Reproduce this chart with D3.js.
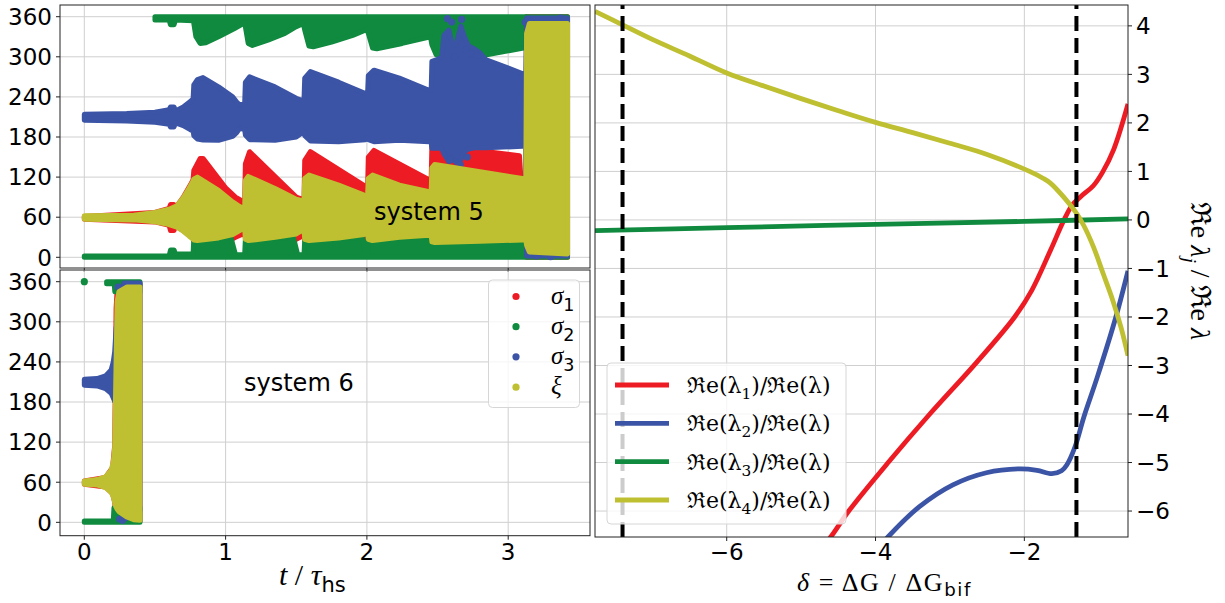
<!DOCTYPE html>
<html><head><meta charset="utf-8">
<script src="https://cdn.jsdelivr.net/npm/d3@7"></script>
<style>body{margin:0;background:#fff}svg{display:block}</style>
</head><body>
<svg id="chart" width="1225" height="603"></svg>
<script>
// ================= DATA =================
const timeTicks = [0, 1, 2, 3];
const angleTicks = [0, 60, 120, 180, 240, 300, 360];
const deltaTicks = [-6, -4, -2];
const ratioTicks = [-6, -5, -4, -3, -2, -1, 0, 1, 2, 3, 4];
const seriesLabels = ["σ", "σ", "σ", "ξ"];
const seriesSubs = ["1", "2", "3", ""];
const panelLabels = ["system 5", "system 6"];

// system 5 : point-cloud envelopes [t, low, high]
const sys5Sigma1 = [[0,57,61],[0.5,53,67],[0.6,48,73],[0.61,40,79],[0.635,40,79],[0.645,47,74],[0.7,40,90],[0.75,32,108],[0.77,28,116],
 [0.775,24,130],[0.82,22,148],[0.84,22,148],[1.0,22,104],[1.07,30,90],[1.135,36,82],
 [1.14,28,140],[1.17,24,158],[1.5,27,90],[1.555,33,86],
 [1.56,25,145],[1.6,22,158],[1.99,27,106],[2.005,30,104],
 [2.01,25,150],[2.05,22,160],[2.44,26,116],[2.455,28,116],
 [2.46,20,168],[3.08,24,152],[3.09,24,118],[3.125,24,118],
 [3.13,0,360],[3.42,0,360]];
const sys5Sigma2Low = [[0,0,2],[0.6,0,2],[0.61,0,11],[0.635,0,11],[0.645,0,5],[0.77,0,5],
 [0.775,0,28],[0.95,0,32],[1.04,0,28],[1.07,0,4],[1.135,0,4],
 [1.14,0,27],[1.48,0,30],[1.51,0,4],[1.555,0,4],
 [1.56,0,26],[1.97,0,30],[1.99,0,5],[2.005,0,5],
 [2.01,0,27],[2.455,0,31],
 [2.46,0,23],[3.125,0,29],
 [3.13,0,360],[3.42,0,360]];
const sys5Sigma2High = [[0.5,355,360],[0.6,355,360],[0.61,348,360],[0.635,348,360],[0.645,355,360],[0.77,354,360],
 [0.775,350,360],[0.79,330,360],[0.82,320,360],[0.86,321,360],[0.95,330,360],[1.06,342,360],[1.135,351,360],
 [1.14,345,360],[1.16,320,360],[1.19,317,360],[1.3,325,360],[1.42,335,360],[1.5,345,360],[1.55,350,360],
 [1.56,340,360],[1.59,316,360],[1.62,315,360],[1.75,322,360],[1.9,332,360],[2.0,341,360],
 [2.01,335,360],[2.04,313,360],[2.07,312,360],[2.25,320,360],[2.45,330,360],
 [2.46,318,360],[2.49,303,360],[2.8,301,360],[3.08,312,360],[3.125,314,360]];
const sys5Sigma3 = [[0,205,214],[0.3,204,215],[0.5,202,217],[0.6,199,221],[0.61,195,225],[0.635,195,225],[0.645,201,219],[0.7,197,225],[0.75,191,233],[0.77,189,237],
 [0.775,182,258],[0.8,177,266],[0.84,175.5,269],[0.95,175,255],[1.05,181,240],[1.08,187,232],[1.1,193,228],[1.135,191,230],
 [1.14,183,262],[1.17,176,270],[1.35,175,255],[1.5,180,238],[1.54,186,235],[1.555,188,236],
 [1.56,182,268],[1.6,174,278],[1.8,173,262],[1.99,176,245],[2.005,179,245],
 [2.01,176,272],[2.05,173,280],[2.23,175,268],[2.44,173,250],[2.455,172,250],
 [2.46,163,293],[2.5,163,296],[2.53,163,300],[2.545,155,332],[2.58,143,340],[2.6,150,322],[2.63,142,318],[2.665,146,346],[2.69,158,330],[2.72,162,316],[2.76,164,312],[2.8,164,306],[2.84,164,296],[3.1,166,275],[3.125,166,275],
 [3.13,2,358],[3.42,2,358]];
const sys5Sigma3Dots = [[2.57,357],[2.67,356],[2.6,352],[2.62,300],[2.7,310],[2.74,304],[2.78,302],[2.59,146],[2.66,139],[2.71,150],
 [3.12,352],[3.14,356],[3.37,358],[3.4,356],[3.16,4],[3.2,2],[3.25,5],[3.3,1]];
const sys5Xi = [[0,57,62],[0.35,56,63],[0.5,53,67],[0.6,49,72],[0.655,45,77],[0.7,39,89],[0.74,32,103],[0.77,27,114],
 [0.775,26,117],[0.8,25,120],[0.95,29,100],[1.05,34,83],[1.1,40,76],[1.135,44,72],
 [1.14,27,115],[1.16,25,121],[1.35,30,103],[1.5,35,87],[1.555,42,84],
 [1.56,27,118],[1.59,25,123],[1.8,29,108],[1.98,34,93],[2.005,38,92],
 [2.01,27,118],[2.04,25,123],[2.23,30,108],[2.44,33,98],[2.455,34,97],
 [2.46,23,134],[2.48,22,139],[2.8,24,128],[3.1,26,118],[3.125,26,118],
 [3.13,18,335],[3.15,8,350],[3.42,5,350]];

// system 6
const sys6Sigma1 = [[0,57,62],[0.15,53,67],[0.2,43,82],[0.215,30,115],[0.225,10,320],[0.235,2,357],[0.394,2,357]];
const sys6Sigma2Low = [[0,0,2],[0.205,0,2],[0.21,0,22],[0.394,0,22]];
const sys6Sigma2High = [[0.158,357,360],[0.212,357,360],[0.216,345,360],[0.394,345,360]];
const sys6Sigma2Dots = [[0,360]];
const sys6Sigma3 = [[0,205,214],[0.09,204,215],[0.15,200,219],[0.19,193,228],[0.205,186,240],[0.215,181,255],[0.225,178,290],[0.232,22,300],[0.26,20,345],[0.28,18,358],[0.394,18,358]];
const sys6Sigma3Dots = [[0.25,5],[0.27,3],[0.29,7],[0.235,300],[0.24,352]];
const sys6Xi = [[0,57,62],[0.09,56,64],[0.15,52,68],[0.19,45,78],[0.205,38,90],[0.215,30,112],[0.222,24,200],[0.232,20,330],[0.245,16,345],[0.3,8,352],[0.35,4,352],[0.394,3,352]];

// right panel: Re(lambda_j)/Re(lambda) vs delta
const lambda1 = [[-4.75,-6.8],[-4.6,-6.53],[-4.36,-6.0],[-3.83,-5.0],[-3.27,-4.0],[-2.65,-2.95],[-2.13,-2.0],[-1.9,-1.45],[-1.65,-0.63],[-1.47,-0.01],[-1.36,0.3],[-1.25,0.47],[-1.07,0.71],[-0.95,0.98],[-0.8,1.45],[-0.607,2.39]];
const lambda2 = [[-3.95,-6.75],[-3.83,-6.53],[-3.41,-5.91],[-2.96,-5.46],[-2.51,-5.21],[-2.06,-5.13],[-1.83,-5.16],[-1.63,-5.23],[-1.5,-5.17],[-1.43,-5.05],[-1.32,-4.68],[-1.2,-4.06],[-1.02,-3.24],[-0.77,-2.0],[-0.607,-1.05]];
const lambda3 = [[-7.77,-0.22],[-6,-0.16],[-4,-0.09],[-2,-0.03],[-0.607,0.02]];
const lambda4 = [[-7.77,4.3],[-7.4,4.02],[-7,3.72],[-6.5,3.38],[-6,3.03],[-5.5,2.76],[-5,2.5],[-4.5,2.25],[-4,2.01],[-3.5,1.8],[-3,1.58],[-2.5,1.35],[-1.93,1.0],[-1.75,0.86],[-1.65,0.76],[-1.47,0.47],[-1.31,0.16],[-1.2,-0.12],[-1.07,-0.56],[-0.94,-1.11],[-0.82,-1.62],[-0.7,-2.22],[-0.607,-2.8]];
const bifurcationLines = [-7.40, -1.30];
const lambdaSubs = ["1", "2", "3", "4"];

// ================= DRAWING =================
const C = {red:"#ed1c24", green:"#0f8a3e", blue:"#3b54a5", yellow:"#bfbf32"};
const SANS = "'DejaVu Sans', sans-serif";
const SERIF = "'Liberation Serif','DejaVu Serif',serif";
const DSERIF = "'DejaVu Serif',serif";
const GRID = "#cfcfcf";
const svg = d3.select("#chart");

function rich(g, x, y, parts, size, anchor, family, subShift) {
  const t = g.append("text").attr("x", x).attr("y", y).attr("font-size", size)
    .attr("text-anchor", anchor || "start").attr("fill", "#000").attr("font-family", SANS);
  let shift = 0;
  const ss = subShift === undefined ? 0.28 : subShift;
  parts.forEach(p => {
    const ts = t.append("tspan").text(p.s);
    if (p.serif) ts.attr("font-family", family || SERIF);
    if (p.italic) ts.attr("font-style", "italic");
    const want = p.sub ? size * ss : 0;
    if (want !== shift) { ts.attr("dy", want - shift); shift = want; }
    if (p.sub) ts.attr("font-size", size * 0.7);
  });
  return t;
}

const leftX = d3.scaleLinear().domain([-0.172, 3.579]).range([60, 590]);
const panels = [
  {y: d3.scaleLinear().domain([-16, 377.5]).range([268, 5]), top: 5, bottom: 268,
   s1: sys5Sigma1, s2: [sys5Sigma2Low, sys5Sigma2High], s2dots: [], s3: sys5Sigma3, s3dots: sys5Sigma3Dots, xi: sys5Xi,
   label: panelLabels[0], lx: 374, ly: 220},
  {y: d3.scaleLinear().domain([-20, 377.5]).range([535.7, 270]), top: 270, bottom: 535.7,
   s1: sys6Sigma1, s2: [sys6Sigma2Low, sys6Sigma2High], s2dots: sys6Sigma2Dots, s3: sys6Sigma3, s3dots: sys6Sigma3Dots, xi: sys6Xi,
   label: panelLabels[1], lx: 244, ly: 391}
];

panels.forEach((p, i) => {
  const g = svg.append("g");
  const id = "clipL" + i;
  svg.append("clipPath").attr("id", id).append("rect")
    .attr("x", 60).attr("y", p.top).attr("width", 530).attr("height", p.bottom - p.top);
  g.selectAll(".gx").data(timeTicks).join("line")
    .attr("x1", d => leftX(d)).attr("x2", d => leftX(d)).attr("y1", p.top).attr("y2", p.bottom)
    .attr("stroke", GRID).attr("stroke-width", 1);
  g.selectAll(".gy").data(angleTicks).join("line")
    .attr("x1", 60).attr("x2", 590).attr("y1", d => p.y(d)).attr("y2", d => p.y(d))
    .attr("stroke", GRID).attr("stroke-width", 1);
  const area = d3.area().x(d => leftX(d[0])).y0(d => p.y(d[1])).y1(d => p.y(d[2]));
  const data = g.append("g").attr("clip-path", `url(#${id})`);
  const band = (arr, col) => data.append("path").attr("d", area(arr)).attr("fill", col)
    .attr("stroke", col).attr("stroke-width", 5).attr("stroke-linejoin", "round");
  const dots = (arr, col) => data.selectAll(null).data(arr).join("circle")
    .attr("cx", d => leftX(d[0])).attr("cy", d => p.y(d[1])).attr("r", 3.6).attr("fill", col);
  band(p.s1, C.red);
  p.s2.forEach(a => band(a, C.green));
  dots(p.s2dots, C.green);
  band(p.s3, C.blue);
  dots(p.s3dots, C.blue);
  band(p.xi, C.yellow);
  g.append("rect").attr("x", 60).attr("y", p.top).attr("width", 530).attr("height", p.bottom - p.top)
    .attr("fill", "none").attr("stroke", "#222").attr("stroke-width", 1);
  g.selectAll(".ty").data(angleTicks).join("line")
    .attr("x1", 56).attr("x2", 60).attr("y1", d => p.y(d)).attr("y2", d => p.y(d)).attr("stroke", "#222");
  g.selectAll(".tyl").data(angleTicks).join("text")
    .attr("x", 52).attr("y", d => p.y(d)).attr("dy", "0.36em").attr("text-anchor", "end")
    .attr("font-family", SANS).attr("font-size", 23).text(d => d);
  g.selectAll(".tx").data(timeTicks).join("line")
    .attr("x1", d => leftX(d)).attr("x2", d => leftX(d)).attr("y1", p.bottom).attr("y2", p.bottom + 4).attr("stroke", "#222");
  g.append("text").attr("x", p.lx).attr("y", p.ly).attr("font-family", SANS).attr("font-size", 24).text(p.label);
});
svg.selectAll(".txl").data(timeTicks).join("text")
  .attr("x", d => leftX(d)).attr("y", 560).attr("text-anchor", "middle")
  .attr("font-family", SANS).attr("font-size", 23).text(d => d);
rich(svg, 279, 585, [{s:"t", serif:true, italic:true}, {s:" / ", serif:true}, {s:"τ", serif:true, italic:true}, {s:"hs", sub:true}], 30, "start", SERIF, 0.22);

// left legend
{
  const g = svg.append("g");
  g.append("rect").attr("x", 488.5).attr("y", 280).attr("width", 91).attr("height", 127.5).attr("rx", 4)
    .attr("fill", "#fff").attr("fill-opacity", 0.8).attr("stroke", "#d6d6d6");
  const cols = [C.red, C.green, C.blue, C.yellow];
  const ys = [296.5, 326.7, 356.8, 387.2];
  seriesLabels.forEach((s, i) => {
    g.append("circle").attr("cx", 516).attr("cy", ys[i]).attr("r", 3.6).attr("fill", cols[i]);
    const parts = [{s: s, serif: true, italic: true}];
    if (seriesSubs[i]) parts.push({s: seriesSubs[i], sub: true});
    rich(g, 551, ys[i] + 7, parts, 25);
  });
}

// ================= right panel =================
const rx = d3.scaleLinear().domain([-7.77, -0.607]).range([595, 1128]);
const ry = d3.scaleLinear().domain([-6.535, 4.43]).range([537, 5]);
{
  const g = svg.append("g");
  svg.append("clipPath").attr("id", "clipR").append("rect").attr("x", 595).attr("y", 5).attr("width", 533).attr("height", 532);
  g.selectAll(".gx").data(deltaTicks).join("line")
    .attr("x1", d => rx(d)).attr("x2", d => rx(d)).attr("y1", 5).attr("y2", 537).attr("stroke", GRID);
  g.selectAll(".gy").data(ratioTicks).join("line")
    .attr("x1", 595).attr("x2", 1128).attr("y1", d => ry(d)).attr("y2", d => ry(d)).attr("stroke", GRID);
  const line = d3.line().x(d => rx(d[0])).y(d => ry(d[1])).curve(d3.curveCatmullRom.alpha(0.5));
  const dg = g.append("g").attr("clip-path", "url(#clipR)");
  [[lambda1, C.red], [lambda2, C.blue], [lambda3, C.green], [lambda4, C.yellow]].forEach(([a, c]) => {
    dg.append("path").attr("d", line(a)).attr("fill", "none").attr("stroke", c).attr("stroke-width", 4.8);
  });
  dg.selectAll(".vl").data(bifurcationLines).join("line")
    .attr("x1", d => rx(d)).attr("x2", d => rx(d)).attr("y1", 537).attr("y2", 5)
    .attr("stroke", "#000").attr("stroke-width", 4).attr("stroke-dasharray", "15,7");
  g.append("rect").attr("x", 595).attr("y", 5).attr("width", 533).attr("height", 532)
    .attr("fill", "none").attr("stroke", "#222");
  g.selectAll(".ty").data(ratioTicks).join("line")
    .attr("x1", 1128).attr("x2", 1132).attr("y1", d => ry(d)).attr("y2", d => ry(d)).attr("stroke", "#222");
  g.selectAll(".tyl").data(ratioTicks).join("text")
    .attr("x", 1136).attr("y", d => ry(d)).attr("dy", "0.36em")
    .attr("font-family", SANS).attr("font-size", 23).text(d => d < 0 ? "\u2212" + Math.abs(d) : d);
  g.selectAll(".tx").data(deltaTicks).join("line")
    .attr("x1", d => rx(d)).attr("x2", d => rx(d)).attr("y1", 537).attr("y2", 541).attr("stroke", "#222");
  g.selectAll(".txl").data(deltaTicks).join("text")
    .attr("x", d => rx(d)).attr("y", 560).attr("text-anchor", "middle")
    .attr("font-family", SANS).attr("font-size", 23).text(d => "\u2212" + Math.abs(d));
  rich(g, 797, 591, [{s:"δ", serif:true, italic:true}, {s:" = ΔG / ΔG", serif:true}, {s:"bif", sub:true}], 26, "start", SERIF, 0.18)
    .attr("letter-spacing", 1.6);
  const yl = g.append("g").attr("transform", "translate(1191,271) rotate(90)");
  rich(yl, 0, 0, [{s:"ℜe ", serif:true}, {s:"λ", serif:true, italic:true}, {s:"j", serif:true, italic:true, sub:true}, {s:" / ℜe ", serif:true}, {s:"λ", serif:true, italic:true}], 28, "middle");
  const lg = g.append("g");
  lg.append("rect").attr("x", 607).attr("y", 363).attr("width", 239).attr("height", 161).attr("rx", 4)
    .attr("fill", "#fff").attr("fill-opacity", 0.8).attr("stroke", "#d6d6d6");
  const cols = [C.red, C.blue, C.green, C.yellow];
  const ys = [385, 423.3, 461.7, 500];
  lambdaSubs.forEach((s, i) => {
    lg.append("line").attr("x1", 615).attr("x2", 669).attr("y1", ys[i]).attr("y2", ys[i])
      .attr("stroke", cols[i]).attr("stroke-width", 4.8);
    rich(lg, 687, ys[i] + 8, [{s:"ℜe(λ", serif:true}, {s:s, serif:true, sub:true}, {s:")/ℜe(λ)", serif:true}], 22, "start", DSERIF);
  });
}
</script>
</body></html>
